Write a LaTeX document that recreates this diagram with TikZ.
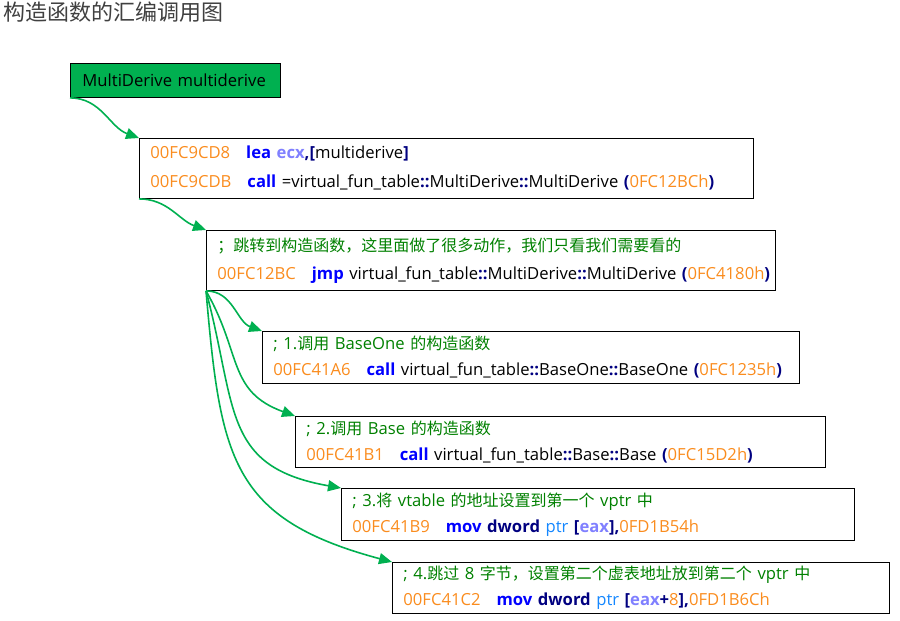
\documentclass[tikz,border=0pt]{standalone}
\usepackage{fontspec}
\setmainfont{Open Sans}[Scale=1.04]
\newfontfamily\cjk{Noto Sans CJK SC}
\usepackage{xcolor}
\usetikzlibrary{arrows.meta, positioning}

\definecolor{addrorange}{RGB}{250,140,30}
\definecolor{kwblue}{RGB}{0,0,255}
\definecolor{navyblue}{RGB}{0,0,128}
\definecolor{regblue}{RGB}{128,128,255}
\definecolor{ptrblue}{RGB}{20,135,255}
\definecolor{cmtgreen}{RGB}{0,128,0}
\definecolor{boxgreen}{RGB}{0,176,80}

\newcommand\zh[1]{{\cjk #1}}
\newcommand\addr[1]{\textcolor{addrorange}{#1}}
\newcommand\kw[1]{\textcolor{kwblue}{\bfseries #1}}
\newcommand\nv[1]{\textcolor{navyblue}{\bfseries #1}}
\newcommand\reg[1]{\textcolor{regblue}{\bfseries #1}}
\newcommand\gap{\hspace{16pt}}

\begin{document}
\begin{tikzpicture}[x=1pt, y=1pt,
			codebox/.style={rectangle, draw=black, line width=0.9pt, anchor=north west, align=left, inner xsep=11pt, inner ysep=0pt, font=\fontsize{16}{26}\selectfont},
			varbox/.style={rectangle, draw=black, line width=0.9pt, fill=boxgreen, anchor=north west, align=left, inner xsep=12pt, font=\fontsize{16}{20}\selectfont},
			flow/.style={-{Triangle[length=13pt, width=11pt]}, draw=boxgreen, line width=1.6pt},
			]
			\useasboundingbox (0,0) rectangle (900,-621);
			
			% ---- title ----
			\node[anchor=north west, inner sep=1pt, text=black!75, font=\cjk\fontsize{22}{22}\selectfont] (title) at (2,-1) {构造函数的汇编调用图};
			
			% ---- object ----
			\node[varbox, text width=186pt, minimum height=34pt] (var) at (70,-63) {MultiDerive multiderive};
			
			% ---- calling code ----
			\node[codebox, text width=592pt, minimum height=60pt, font=\fontsize{16}{29}\selectfont] (lea) at (139,-138)
			{\addr{00FC9CD8}\gap\kw{lea} \reg{ecx}\nv{,[}multiderive\nv{]}\\
				\mbox{\addr{00FC9CDB}\gap\kw{call} =virtual\_fun\_table\nv{::}MultiDerive\nv{::}MultiDerive \nv{(}\addr{0FC12BCh}\nv{)}}};
			\node[codebox, text width=547pt, minimum height=60pt, font=\fontsize{16}{28}\selectfont] (jmp) at (206,-230)
			{\textcolor{cmtgreen}{\zh{；跳转到构造函数，这里面做了很多动作，我们只看我们需要看的}}\\
				\mbox{\addr{00FC12BC}\gap\kw{jmp} virtual\_fun\_table\nv{::}MultiDerive\nv{::}MultiDerive \nv{(}\addr{0FC4180h}\nv{)}}};
			
			% ---- inside the constructor ----
			\node[codebox, text width=515pt, minimum height=52pt] (step1) at (262,-331)
			{\textcolor{cmtgreen}{; 1.\zh{调用} BaseOne \zh{的构造函数}}\\
				\addr{00FC41A6}\gap\kw{call} virtual\_fun\_table\nv{::}BaseOne\nv{::}BaseOne \nv{(}\addr{0FC1235h}\nv{)}};
			\node[codebox, text width=508pt, minimum height=51pt] (step2) at (295,-416)
			{\textcolor{cmtgreen}{; 2.\zh{调用} Base \zh{的构造函数}}\\
				\addr{00FC41B1}\gap\kw{call} virtual\_fun\_table\nv{::}Base\nv{::}Base \nv{(}\addr{0FC15D2h}\nv{)}};
			\node[codebox, text width=491pt, minimum height=52pt] (step3) at (341,-488)
			{\textcolor{cmtgreen}{; 3.\zh{将} vtable \zh{的地址设置到第一个} vptr \zh{中}}\\
				\addr{00FC41B9}\gap\kw{mov} \nv{dword} \textcolor{ptrblue}{ptr} \nv{[}\reg{eax}\nv{],}\addr{0FD1B54h}};
			\node[codebox, text width=475pt, minimum height=51pt] (step4) at (392,-562)
			{\textcolor{cmtgreen}{; 4.\zh{跳过} 8 \zh{字节，设置第二个虚表地址放到第二个} vptr \zh{中}}\\
				\addr{00FC41C2}\gap\kw{mov} \nv{dword} \textcolor{ptrblue}{ptr} \nv{[}\reg{eax}\nv{+}\addr{8}\nv{],}\addr{0FD1B6Ch}};
			
			% ---- connectors ----
			\draw[flow] (var.south west) to[out=0, in=160] (lea.north west);
			\draw[flow] (lea.south west) to[out=0, in=160] (jmp.north west);
			\draw[flow] (jmp.south west) to[out=0, in=160] (step1.north west);
			\draw[flow] (jmp.south west) to[out=-60, in=160, looseness=1.2] (step2.north west);
			\draw[flow] (jmp.south west) to[out=-75, in=170, looseness=1.3] (step3.north west);
			\draw[flow] (jmp.south west) to[out=-85, in=165, looseness=1.3] (step4.north west);
			
		\end{tikzpicture}
\end{document}
